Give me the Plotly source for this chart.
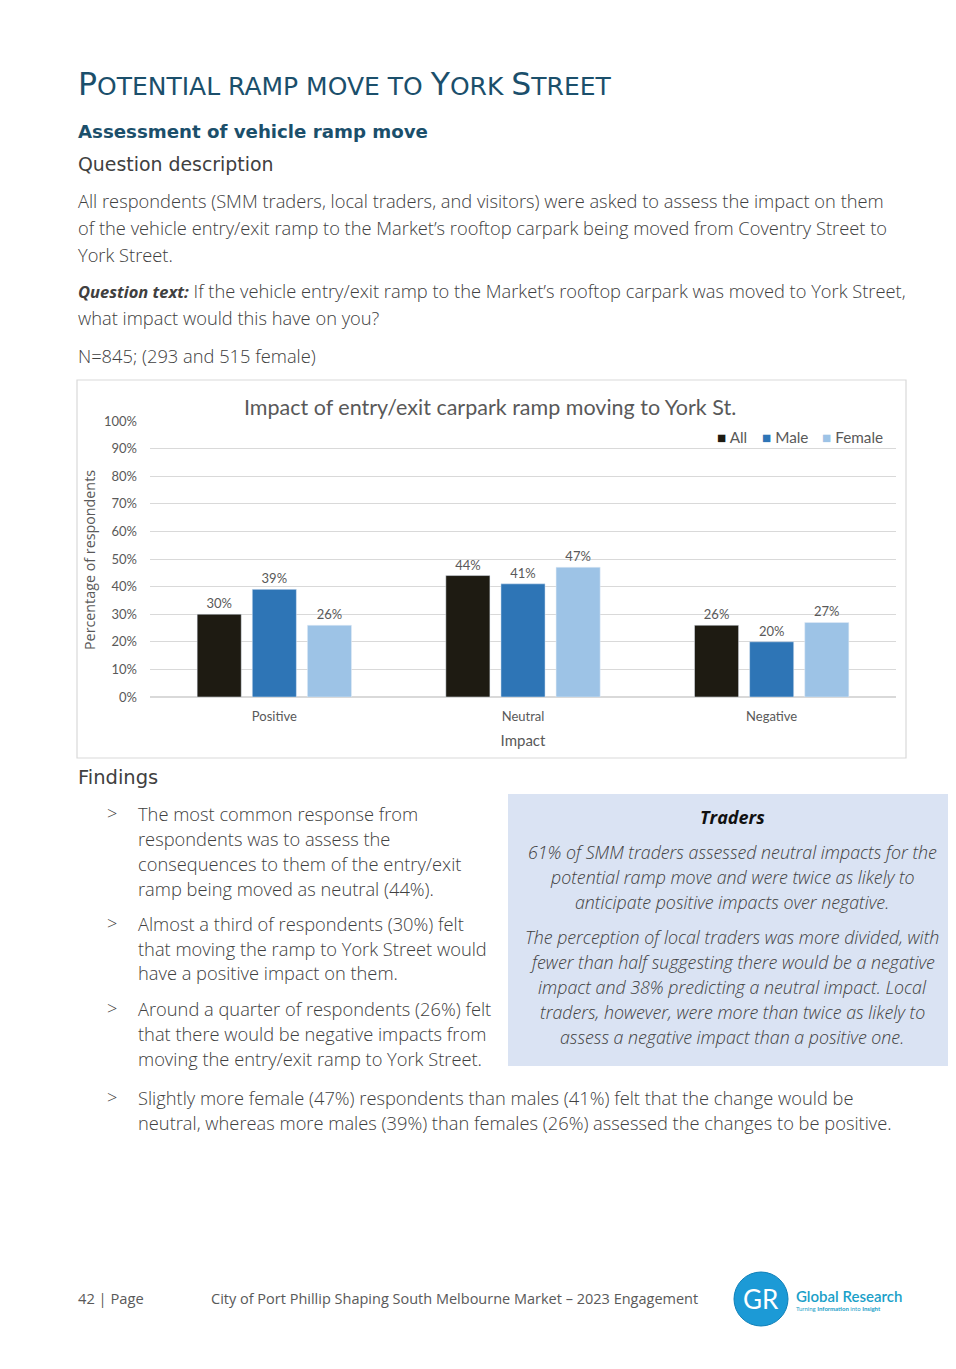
import plotly.graph_objects as go

# ---------------- data ----------------
categories = ["Positive", "Neutral", "Negative"]
series_names = ["All", "Male", "Female"]
all_vals = [30, 44, 26]
male_vals = [39, 41, 20]
female_vals = [26, 47, 27]
series_colors = ["#1e1b12", "#2e75b6", "#9dc3e6"]
y_ticks = list(range(0, 101, 10))

OFF = 8  # default body margin of the html page
W, H = 956 - OFF, 1369 - 2 * OFF - 14


def X(px):
    return (px - OFF) / W


def Y(py):
    return 1 - (py - OFF) / H


BODY = "Open Sans"
HEAD = "DejaVu Sans"
CHART = "Lato"
TXT = "#404040"
TEAL = "#1b4f6b"
GREY = "#595959"

fig = go.Figure()
for name, vals, col in zip(series_names, [all_vals, male_vals, female_vals], series_colors):
    fig.add_trace(go.Bar(
        x=categories, y=vals, name=name, marker_color=col,
        text=[f"{v}%" for v in vals], textposition="outside",
        textfont=dict(family=CHART, size=13, color=GREY),
        cliponaxis=False, showlegend=False,
    ))

fig.update_layout(
    width=W, height=H, margin=dict(l=0, r=0, t=0, b=0, autoexpand=False),
    paper_bgcolor="white", plot_bgcolor="white",
    barmode="group", bargap=0.335, bargroupgap=0.2,
    xaxis=dict(domain=[X(150), X(896)], anchor="y", showgrid=False, showline=False,
               automargin=False, ticks="", ticklabelstandoff=10,
               tickfont=dict(family=CHART, size=13, color=GREY),
               title=dict(text="Impact", font=dict(family=CHART, size=15, color=GREY), standoff=12)),
    yaxis=dict(domain=[Y(697), Y(421)], range=[0, 100], tickvals=y_ticks, automargin=False,
               ticktext=[f"{t}%" for t in y_ticks], showgrid=True, gridcolor="#d9d9d9",
               zeroline=True, zerolinecolor="#d9d9d9", showline=False, ticks="",
               tickfont=dict(family=CHART, size=13, color=GREY), ticklabelstandoff=12),
    showlegend=False,
)

ann = []


def text(px, py, s, size=18.3, color=TXT, family=BODY, anchor="left", weight=300):
    ann.append(dict(x=X(px), y=Y(py), xref="paper", yref="paper", text=s, showarrow=False,
                    xanchor=anchor, yanchor="middle",
                    font=dict(family=family, size=size, color=color, weight=weight)))


# heading (small caps)
big, small = 31.5, 25
title_html = (f"<span style='font-size:{big}px'>P</span>OTENTIAL RAMP MOVE TO "
              f"<span style='font-size:{big}px'>Y</span>ORK <span style='font-size:{big}px'>S</span>TREET")
text(76, 84, title_html, size=small, color=TEAL, family=HEAD, weight=400)
text(76, 131, "Assessment of vehicle ramp move", size=18.2, color=TEAL, family=HEAD, weight=700)
text(76, 164, "Question description", size=18.9, color=TXT, family=HEAD, weight=400)

para = [
    (200, "All respondents (SMM traders, local traders, and visitors) were asked to assess the impact on them"),
    (227, "of the vehicle entry/exit ramp to the Market’s rooftop carpark being moved from Coventry Street to"),
    (254, "York Street."),
    (291, "<span style='font-size:16.5px'><b><i>Question text:</i></b></span> If the vehicle entry/exit ramp to the Market’s rooftop carpark was moved to York Street,"),
    (318, "what impact would this have on you?"),
    (355, "N=845; (293 and 515 female)"),
]
for py, s in para:
    text(76, py, s)

# chart frame
fig.add_shape(type="rect", xref="paper", yref="paper", x0=X(77), x1=X(906), y0=Y(758), y1=Y(380),
              line=dict(color="#d9d9d9", width=1.2), fillcolor="rgba(0,0,0,0)", layer="below")
text(490, 407, "Impact of entry/exit carpark ramp moving to York St.", size=21.5, color=GREY,
     family=CHART, anchor="center", weight=400)
ann.append(dict(x=X(90), y=Y(560), xref="paper", yref="paper", text="Percentage of respondents",
                showarrow=False, textangle=-90, xanchor="center", yanchor="middle",
                font=dict(family=BODY, size=14.3, color=GREY)))

# legend (built from series)
leg_x = [715, 760, 820]
for lx, name, col in zip(leg_x, series_names, series_colors):
    text(lx, 437, f"<span style='color:{col}'>■</span> {name}", size=15.3, color=GREY,
         family=CHART, weight=400)

# findings
text(76, 777, "Findings", size=19.5, color=TXT, family=HEAD, weight=400)
bullets = [
    [(813, "The most common response from"), (838, "respondents was to assess the"),
     (863, "consequences to them of the entry/exit"), (888, "ramp being moved as neutral (44%).")],
    [(923, "Almost a third of respondents (30%) felt"), (948, "that moving the ramp to York Street would"),
     (973, "have a positive impact on them.")],
    [(1008, "Around a quarter of respondents (26%) felt"), (1033, "that there would be negative impacts from"),
     (1058, "moving the entry/exit ramp to York Street.")],
    [(1097, "Slightly more female (47%) respondents than males (41%) felt that the change would be"),
     (1122, "neutral, whereas more males (39%) than females (26%) assessed the changes to be positive.")],
]
for b in bullets:
    text(105, b[0][0], "&gt;", size=18)
    for py, s in b:
        text(136, py, s)

# traders box
fig.add_shape(type="rect", xref="paper", yref="paper", x0=X(508), x1=X(956), y0=Y(1066), y1=Y(794),
              line=dict(width=0), fillcolor="#dae3f3", layer="below")
text(732, 817, "<b><i>Traders</i></b>", size=18, color="#111111", anchor="center", weight=400)
traders = [
    (852, "61% of SMM traders assessed neutral impacts for the"),
    (877, "potential ramp move and were twice as likely to"),
    (902, "anticipate positive impacts over negative."),
    (937, "The perception of local traders was more divided, with"),
    (962, "fewer than half suggesting there would be a negative"),
    (987, "impact and 38% predicting a neutral impact. Local"),
    (1012, "traders, however, were more than twice as likely to"),
    (1037, "assess a negative impact than a positive one."),
]
for py, s in traders:
    text(732, py, f"<i>{s}</i>", size=17.8, anchor="center")

# footer
text(76, 1298, "42 | Page", size=14.7, color=GREY, family=BODY, weight=400)
text(209, 1298, "City of Port Phillip Shaping South Melbourne Market – 2023 Engagement", size=14.5,
     color=GREY, family=BODY, weight=400)
fig.add_shape(type="circle", xref="paper", yref="paper", x0=X(734), x1=X(788), y0=Y(1326), y1=Y(1272),
              line=dict(color="#0e7fb8", width=1), fillcolor="#1c9ad6")
text(761, 1299, "GR", size=26, color="white", family="Lato", anchor="center", weight=400)
text(794, 1296, "Global Research", size=15, color="#1aa0c8", family="Lato", weight=600)
text(794, 1308, "Turning <b>Information</b> into <b>Insight</b>", size=6, color="#1aa0c8",
     family="Lato", weight=400)

fig.update_layout(annotations=ann)
fig.write_html("out.html")
